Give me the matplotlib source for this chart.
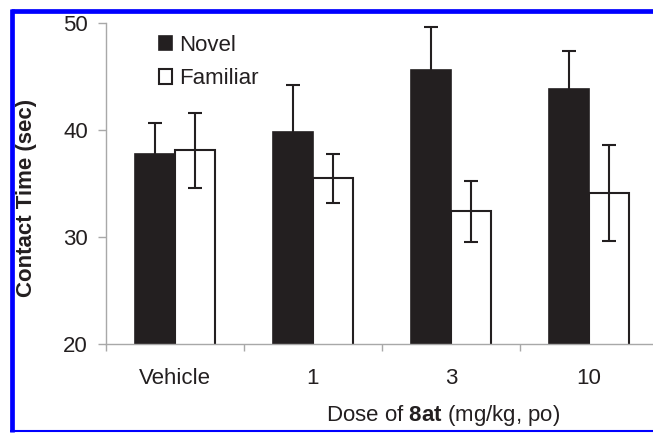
import matplotlib
matplotlib.use("Agg")
import matplotlib.pyplot as plt
from matplotlib.patches import Patch
from matplotlib.lines import Line2D
import numpy as np

categories = ["Vehicle", "1", "3", "10"]
novel = [37.8, 39.8, 45.6, 43.8]
novel_err = [2.9, 4.4, 4.0, 3.6]
familiar = [38.1, 35.5, 32.4, 34.1]
familiar_err = [3.5, 2.3, 2.85, 4.5]
series_labels = ["Novel", "Familiar"]
yticks = [20, 30, 40, 50]

plt.rcParams['font.family'] = ['Liberation Sans', 'DejaVu Sans']
plt.rcParams['mathtext.fontset'] = 'custom'
plt.rcParams['mathtext.rm'] = 'Liberation Sans'
plt.rcParams['mathtext.bf'] = 'Liberation Sans:bold'

W, H = 653, 433
dark = '#231f20'
gray = '#a8a8a8'
fs = 16
fig = plt.figure(figsize=(W / 100, H / 100), dpi=100)

def px(x0, y0, x1, y1):
    return [x0 / W, 1 - y1 / H, (x1 - x0) / W, (y1 - y0) / H]

ax = fig.add_axes(px(106, 23, 658, 344))

x = np.arange(len(categories))
bw = 0.29
ax.bar(x - bw / 2, novel, bw, color=dark, edgecolor=dark, linewidth=1.2, zorder=2)
ax.bar(x + bw / 2, familiar, bw, color='white', edgecolor=dark, linewidth=1.5, zorder=2)
ax.errorbar(x - bw / 2, novel, yerr=novel_err, fmt='none', ecolor=dark,
            elinewidth=1.5, capsize=5, capthick=1.5, zorder=3)
ax.errorbar(x + bw / 2, familiar, yerr=familiar_err, fmt='none', ecolor=dark,
            elinewidth=1.5, capsize=5, capthick=1.5, zorder=3)

ax.set_xlim(-0.5, len(categories) - 0.5)
ax.set_ylim(20, 50)
ax.set_yticks(yticks)
ax.set_yticklabels([str(t) for t in yticks])
ax.set_xticks(x)
ax.set_xticklabels(categories)
ax.set_xticks(np.arange(len(categories) + 1) - 0.5, minor=True)

for s in ['top', 'right']:
    ax.spines[s].set_visible(False)
for s in ['left', 'bottom']:
    ax.spines[s].set_color(gray)
    ax.spines[s].set_linewidth(1.0)

ax.tick_params(axis='y', which='major', length=6, width=1, color=gray,
               labelsize=fs, labelcolor=dark, pad=7)
ax.tick_params(axis='x', which='major', length=0, labelsize=fs,
               labelcolor=dark, pad=17)
ax.tick_params(axis='x', which='minor', length=5, width=1, color=gray)

handles = [Patch(facecolor=dark, edgecolor=dark, linewidth=1.2),
           Patch(facecolor='white', edgecolor=dark, linewidth=1.5)]
leg = fig.legend(handles, series_labels, loc='upper left',
                 bbox_to_anchor=(148 / W, 1 - 24 / H), frameon=False,
                 fontsize=fs, handlelength=0.6, handleheight=0.6,
                 handletextpad=0.3, labelspacing=0.55, borderpad=0)
for t in leg.get_texts():
    t.set_color(dark)

fig.text(27 / W, 1 - 198 / H, "Contact Time (sec)", rotation=90,
         ha='center', va='center', fontsize=16, fontweight='bold', color=dark)
fig.text(443 / W, 1 - 415 / H, r"Dose of $\mathbf{8at}$ (mg/kg, po)",
         ha='center', va='center', fontsize=fs, color=dark)

blue = '#0000ff'
fig.add_artist(Line2D([11 / W, 1.0], [1 - 10.5 / H, 1 - 10.5 / H],
                      transform=fig.transFigure, color=blue, linewidth=3.4,
                      solid_capstyle='butt'))
fig.add_artist(Line2D([11.5 / W, 11.5 / W], [1 - 8.5 / H, 1 - 431.5 / H],
                      transform=fig.transFigure, color=blue, linewidth=3.4,
                      solid_capstyle='butt'))
fig.add_artist(Line2D([10 / W, 1.0], [1 - 431 / H, 1 - 431 / H],
                      transform=fig.transFigure, color=blue, linewidth=1.5,
                      solid_capstyle='butt'))

fig.savefig("out.png", dpi=100)
